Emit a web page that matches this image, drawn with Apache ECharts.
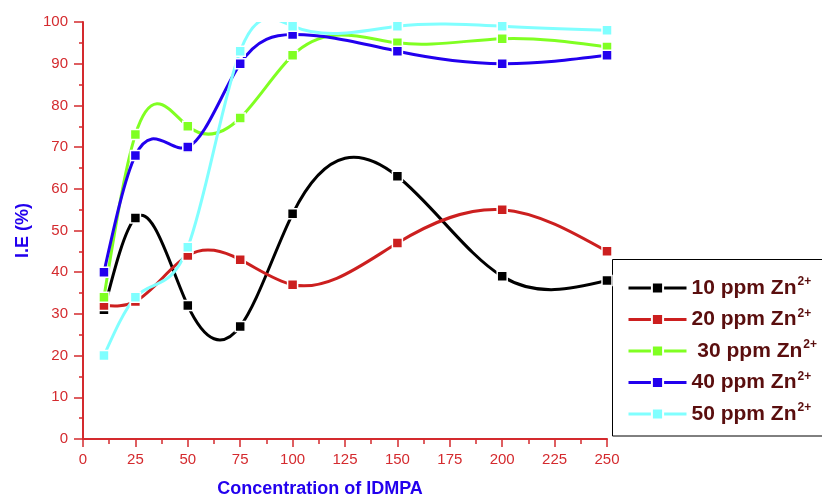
<!DOCTYPE html>
<html>
<head>
<meta charset="utf-8">
<script src="https://cdn.jsdelivr.net/npm/echarts@6/dist/echarts.min.js"></script>
<style>
  html, body { margin: 0; padding: 0; background: #fff; }
  #chart { width: 822px; height: 503px; }
</style>
</head>
<body>
<div id="chart"></div>
<script>
// Inhibition efficiency (%) vs concentration of IDMPA, for each Zn2+ level
const concentrations = [10, 25, 50, 75, 100, 150, 200, 250];
const seriesNames = ['10 ppm Zn', '20 ppm Zn', ' 30 ppm Zn', '40 ppm Zn', '50 ppm Zn'];
const ieZn10 = [31, 53, 32, 27, 54, 63, 39, 38];
const ieZn20 = [32, 33, 44, 43, 37, 47, 55, 45];
const ieZn30 = [34, 73, 75, 77, 92, 95, 96, 94];
const ieZn40 = [40, 68, 70, 90, 97, 93, 90, 92];
const ieZn50 = [20, 34, 46, 93, 99, 99, 99, 98];
const seriesValues = [ieZn10, ieZn20, ieZn30, ieZn40, ieZn50];
const seriesColors = ['#000000', '#cc1f1f', '#80ff22', '#2200ee', '#80ffff'];

const axisRed = '#d42a2e';
const titleBlue = '#2200ee';
const legendText = '#5a0e0e';

// Natural cubic spline through pixel points (x as the parameter),
// emitted as cubic Bezier segments in SVG path syntax.
function splinePath(pts) {
  const n = pts.length;
  const h = [], s = [];
  for (let i = 0; i < n - 1; i++) {
    h[i] = pts[i + 1][0] - pts[i][0];
    s[i] = (pts[i + 1][1] - pts[i][1]) / h[i];
  }
  const M = new Array(n).fill(0);
  const a = [], b = [], c = [], r = [];
  for (let i = 1; i < n - 1; i++) {
    a[i] = h[i - 1];
    b[i] = 2 * (h[i - 1] + h[i]);
    c[i] = h[i];
    r[i] = 6 * (s[i] - s[i - 1]);
  }
  // Thomas algorithm on the interior knots
  for (let i = 2; i < n - 1; i++) {
    const w = a[i] / b[i - 1];
    b[i] -= w * c[i - 1];
    r[i] -= w * r[i - 1];
  }
  for (let i = n - 2; i >= 1; i--) {
    M[i] = (r[i] - (i < n - 2 ? c[i] * M[i + 1] : 0)) / b[i];
  }
  const m = [];
  for (let i = 0; i < n - 1; i++) m[i] = s[i] - h[i] * (2 * M[i] + M[i + 1]) / 6;
  m[n - 1] = s[n - 2] + h[n - 2] * (M[n - 2] + 2 * M[n - 1]) / 6;

  let d = 'M' + pts[0][0] + ',' + pts[0][1];
  for (let i = 0; i < n - 1; i++) {
    const t = h[i] / 3;
    d += ' C' + (pts[i][0] + t) + ',' + (pts[i][1] + m[i] * t) + ' ' +
         (pts[i + 1][0] - t) + ',' + (pts[i + 1][1] - m[i + 1] * t) + ' ' +
         pts[i + 1][0] + ',' + pts[i + 1][1];
  }
  return d;
}

const chart = echarts.init(document.getElementById('chart'), null, { renderer: 'canvas' });

const series = [];
seriesValues.forEach((vals, k) => {
  const pairs = concentrations.map((x, i) => [x, vals[i]]);
  series.push({
    name: seriesNames[k] + ' curve',
    type: 'custom',
    clip: true,
    z: 2 + k,
    data: pairs,
    renderItem: (params, api) => {
      if (params.dataIndex !== 0) return null;
      const pts = concentrations.map((x, i) => api.coord([x, vals[i]]));
      return {
        type: 'path',
        shape: { pathData: splinePath(pts) },
        style: { fill: null, stroke: seriesColors[k], lineWidth: 3 }
      };
    },
    silent: true
  });
});
seriesValues.forEach((vals, k) => {
  series.push({
    name: seriesNames[k],
    type: 'line',
    z: 10 + k,
    data: concentrations.map((x, i) => [x, vals[i]]),
    symbol: 'rect',
    symbolSize: 10,
    showSymbol: true,
    color: seriesColors[k],
    lineStyle: { opacity: 0, width: 3 },
    itemStyle: { color: seriesColors[k], borderColor: '#ffffff', borderWidth: 1.5 },
    animation: false
  });
});

chart.setOption({
  animation: false,
  backgroundColor: '#ffffff',
  grid: { left: 83, right: 215, top: 22, bottom: 63, containLabel: false },
  xAxis: {
    type: 'value',
    min: 0, max: 250, interval: 25,
    name: 'Concentration of IDMPA',
    nameLocation: 'middle',
    nameGap: 41,
    nameTextStyle: { color: titleBlue, fontSize: 18, fontWeight: 'bold', fontFamily: 'Liberation Sans, Arial, sans-serif', padding: [0, 50, 0, 0] },
    axisLine: { show: true, onZero: false, lineStyle: { color: axisRed, width: 2 } },
    axisTick: { show: true, inside: false, length: 8, lineStyle: { color: axisRed, width: 1.5 } },
    minorTick: { show: true, splitNumber: 2, length: 5, lineStyle: { color: axisRed, width: 1.5 } },
    axisLabel: { color: axisRed, fontSize: 15, margin: 13, fontFamily: 'Liberation Sans, Arial, sans-serif' },
    splitLine: { show: false }
  },
  yAxis: {
    type: 'value',
    min: 0, max: 100, interval: 10,
    name: 'I.E (%)',
    nameLocation: 'middle',
    nameGap: 51,
    nameRotate: 90,
    nameTextStyle: { color: titleBlue, fontSize: 18, fontWeight: 'bold', fontFamily: 'Liberation Sans, Arial, sans-serif' },
    axisLine: { show: true, onZero: false, lineStyle: { color: axisRed, width: 2 } },
    axisTick: { show: true, inside: false, length: 9, lineStyle: { color: axisRed, width: 1.5 } },
    minorTick: { show: true, splitNumber: 2, length: 4, lineStyle: { color: axisRed, width: 1.5 } },
    axisLabel: { color: axisRed, fontSize: 15, margin: 15, fontFamily: 'Liberation Sans, Arial, sans-serif' },
    splitLine: { show: false }
  },
  legend: {
    data: seriesNames,
    orient: 'vertical',
    left: 627,
    top: 276,
    padding: 0,
    itemWidth: 58,
    itemHeight: 14,
    itemGap: 7.5,
    selectedMode: false,
    lineStyle: { opacity: 1, width: 3 },
    formatter: name => '{t|' + name + '}{s|2+}',
    textStyle: {
      rich: {
        t: { color: legendText, fontSize: 21, fontWeight: 'bold', fontFamily: 'Liberation Sans, Arial, sans-serif', lineHeight: 20 },
        s: { color: legendText, fontSize: 12, fontWeight: 'bold', fontFamily: 'Liberation Sans, Arial, sans-serif', lineHeight: 20, padding: [0, 0, 12, 1] }
      }
    }
  },
  graphic: [{
    type: 'rect',
    shape: { x: 612.5, y: 259.5, width: 240, height: 176.5 },
    style: { fill: null, stroke: '#000000', lineWidth: 1 },
    silent: true
  }],
  series: series
});
</script>
</body>
</html>
